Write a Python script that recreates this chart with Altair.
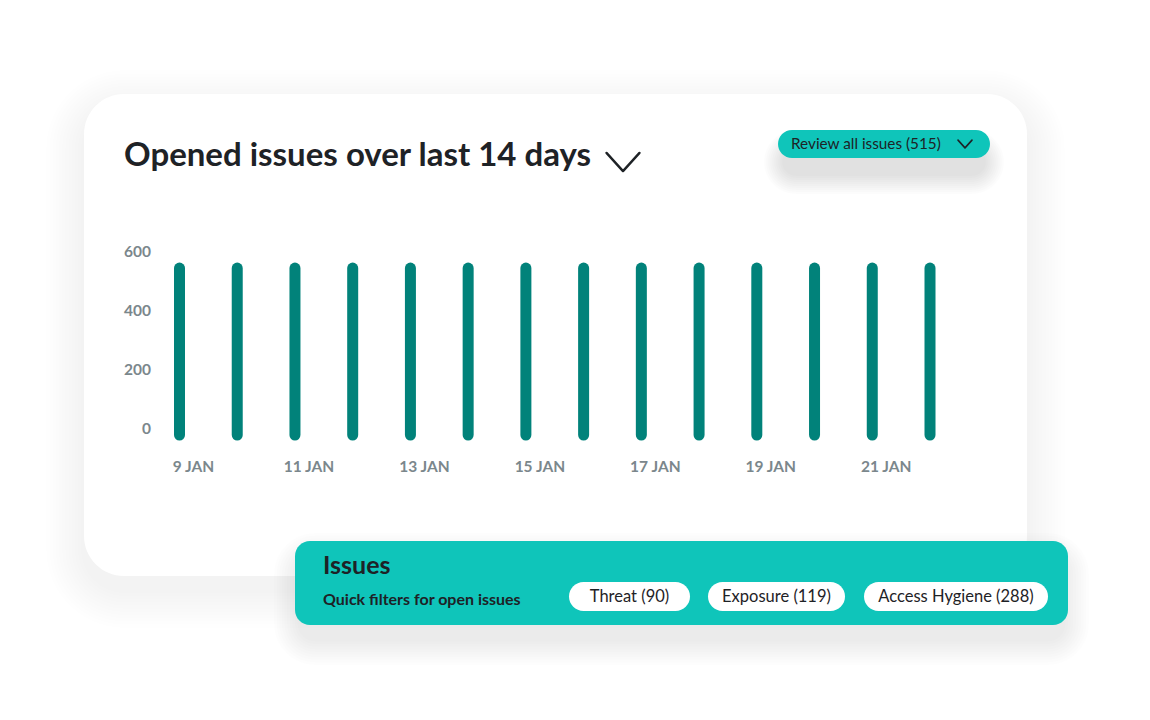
import altair as alt
import pandas as pd

# ---------------- data ----------------
days = [9, 10, 11, 12, 13, 14, 15, 16, 17, 18, 19, 20, 21, 22]
opened = [566, 566, 566, 566, 566, 566, 566, 566, 566, 566, 566, 566, 566, 566]
x_tick_days = [9, 11, 13, 15, 17, 19, 21]
x_tick_labels = ["9 JAN", "11 JAN", "13 JAN", "15 JAN", "17 JAN", "19 JAN", "21 JAN"]
y_ticks = [0, 200, 400, 600]
y_tick_labels = ["0", "200", "400", "600"]

title_text = "Opened issues over last 14 days"
button_text = "Review all issues (515)"
panel_title = "Issues"
panel_sub = "Quick filters for open issues"
filter_labels = ["Threat (90)", "Exposure (119)", "Access Hygiene (288)"]

# ---------------- style ----------------
W, H = 1150, 720
FONT = "Lato"
BAR = "#01827A"
TEAL = "#0FC5BA"
DARK = "#1E2226"
GREY = "#7B878C"

one = alt.Data(values=[{"a": 1}])


def rect(x1, y1, x2, y2, r, fill, opacity=1.0):
    return alt.Chart(one).mark_rect(cornerRadius=r, fill=fill, opacity=opacity).encode(
        x=alt.value(x1), x2=alt.value(x2), y=alt.value(y1), y2=alt.value(y2)
    )


def shadow(x1, y1, x2, y2, r, dy, blur, alpha, steps=10):
    out = []
    for i in range(steps):
        s = blur * (i + 1) / steps
        out.append(rect(x1 - s, y1 - s + dy, x2 + s, y2 + s + dy, r + s, "#000000", alpha))
    return out


def label(text, x, y, size, weight="normal", color=DARK, align="left"):
    return alt.Chart(one).mark_text(
        text=text, font=FONT, fontSize=size, fontWeight=weight, color=color,
        align=align, baseline="middle"
    ).encode(x=alt.value(x), y=alt.value(y))


def chevron(x, y, w, stroke, sw):
    return alt.Chart(one).mark_point(
        shape="M-1,-0.55L0,0.55L1,-0.55", filled=False, stroke=stroke,
        strokeWidth=sw, size=w * w, opacity=1, strokeCap="round", strokeJoin="round"
    ).encode(x=alt.value(x), y=alt.value(y))


layers = []

# main card
layers += shadow(84, 94, 1027, 576, 40, 14, 38, 0.0055, 12)
layers.append(rect(84, 94, 1027, 576, 40, "#FFFFFF"))

# button
layers += shadow(784, 134, 984, 158, 12, 16, 20, 0.013, 10)
layers.append(rect(778, 130, 990, 158, 14, TEAL))
layers.append(label(button_text, 791, 144, 15.3, "normal", DARK))
layers.append(chevron(965, 144, 14, DARK, 1.6))

# title
layers.append(label(title_text, 124, 156, 33, "bold", DARK))
layers.append(chevron(623, 162, 33, DARK, 2.4))

# chart
bars_df = pd.DataFrame({"day": days, "opened": opened})
xs = alt.Scale(domain=[9, 22], range=[179.5, 930], nice=False, zero=False)
ys = alt.Scale(domain=[0, 600], range=[435, 258], nice=False)

bars = alt.Chart(bars_df).mark_rule(strokeWidth=11, strokeCap="round", color=BAR).encode(
    x=alt.X("day:Q", scale=xs, axis=None),
    y=alt.Y("opened:Q", scale=ys, axis=None),
    y2=alt.datum(0),
)
layers.append(bars)

xt = alt.Chart(pd.DataFrame({"day": x_tick_days, "lab": x_tick_labels})).mark_text(
    font=FONT, fontSize=15.5, fontWeight="bold", color=GREY, align="center",
    baseline="middle", dx=14
).encode(x=alt.X("day:Q", scale=xs, axis=None), y=alt.value(467), text="lab:N")
layers.append(xt)

yt = alt.Chart(pd.DataFrame({"v": y_ticks, "lab": y_tick_labels})).mark_text(
    font=FONT, fontSize=15.5, fontWeight="bold", color=GREY, align="right",
    baseline="middle", dy=-6
).encode(y=alt.Y("v:Q", scale=ys, axis=None), x=alt.value(151), text="lab:N")
layers.append(yt)

# issues panel
layers += shadow(300, 545, 1063, 625, 15, 14, 26, 0.008, 10)
layers.append(rect(295, 541, 1068, 625, 15, TEAL))
layers.append(label(panel_title, 323, 566, 25, "bold", DARK))
layers.append(label(panel_sub, 323, 600, 16, "bold", DARK))

pills = [(569, 690), (708, 845), (864, 1048)]
for (a, b), t in zip(pills, filter_labels):
    layers.append(rect(a, 582, b, 611, 14.5, "#FFFFFF"))
    layers.append(label(t, (a + b) / 2, 597, 16.5, "normal", DARK, "center"))

chart = alt.layer(*layers).properties(
    width=W, height=H, autosize=alt.AutoSizeParams(type="none"), padding=0,
    background="#FFFFFF"
).configure_view(stroke=None)

chart.save("out.html", embed_options={"renderer": "svg", "actions": False})
